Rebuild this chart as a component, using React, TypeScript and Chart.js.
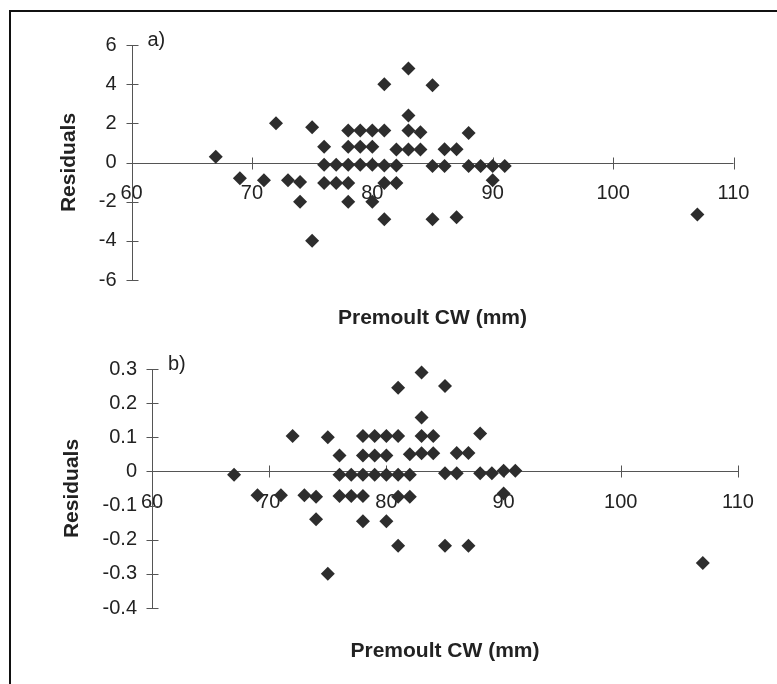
import React, { useEffect, useRef } from 'react';
import { Chart, registerables } from 'chart.js';

Chart.register(...registerables);

// ---------- data ----------
const xTicks = [60, 70, 80, 90, 100, 110];
const yTicksA = [-6, -4, -2, 0, 2, 4, 6];
const yTicksB = [-0.4, -0.3, -0.2, -0.1, 0, 0.1, 0.2, 0.3];
const yTickLabelsB = ['-0.4', '-0.3', '-0.2', '-0.1', '0', '0.1', '0.2', '0.3'];

const xTitle = 'Premoult CW (mm)';
const yTitle = 'Residuals';
const panelTags = ['a)', 'b)'];

// panel a) premoult CW (mm) and residuals
const cwA = [67, 69, 71, 72, 73, 74, 74, 75, 75, 76, 76, 76, 77, 77, 78, 78, 78, 78, 78, 79, 79, 79, 80, 80, 80, 80, 81, 81, 81, 81, 81, 82, 82, 82, 83, 83, 83, 83, 84, 84, 85, 85, 85, 86, 86, 87, 87, 88, 88, 89, 90, 90, 91, 107];
const resA = [0.3, -0.8, -0.9, 2.0, -0.9, -1.0, -2.0, 1.8, -4.0, 0.8, -0.12, -1.05, -0.12, -1.05, 1.63, 0.8, -0.12, -1.05, -2.0, 1.63, 0.8, -0.12, 1.63, 0.8, -0.12, -2.0, 4.0, 1.63, -0.15, -1.05, -2.9, 0.66, -0.15, -1.05, 4.8, 2.4, 1.63, 0.66, 1.54, 0.66, 3.95, -0.18, -2.9, 0.68, -0.18, 0.68, -2.8, 1.51, -0.18, -0.18, -0.18, -0.9, -0.18, -2.65];

// panel b) premoult CW (mm) and residuals
const cwB = [67, 69, 71, 72, 73, 74, 74, 75, 75, 76, 76, 76, 77, 77, 78, 78, 78, 78, 78, 79, 79, 79, 80, 80, 80, 80, 81, 81, 81, 81, 81, 82, 82, 82, 83, 83, 83, 83, 84, 84, 85, 85, 85, 86, 86, 87, 87, 88, 88, 89, 90, 90, 91, 107];
const resB = [-0.01, -0.07, -0.07, 0.104, -0.07, -0.074, -0.14, 0.1, -0.3, 0.047, -0.01, -0.072, -0.01, -0.072, 0.104, 0.047, -0.01, -0.072, -0.146, 0.104, 0.047, -0.01, 0.104, 0.047, -0.01, -0.146, 0.245, 0.104, -0.01, -0.074, -0.218, 0.05, -0.01, -0.074, 0.29, 0.158, 0.104, 0.053, 0.104, 0.053, 0.25, -0.005, -0.218, 0.054, -0.005, 0.054, -0.218, 0.111, -0.005, -0.005, 0.002, -0.065, 0.002, -0.268];

// ---------- styling ----------
const FAMILY = "Arial, 'Liberation Sans', Helvetica, sans-serif";
const TEXT = '#222';
const MARK = '#2d2d2d';
const AXIS = '#555';

type PanelSpec = {
  cw: number[];
  res: number[];
  yTicks: number[];
  yLabels: string[];
  tag: string;
  yMin: number;
  yMax: number;
  height: number;
  pad: { top: number; right: number; bottom: number };
  yWidth: number;
  yTitlePad: number;
  xHeight: number;
};

function excelAxes(tag: string) {
  return {
    id: 'excelAxes',
    beforeDatasetsDraw(chart: any) {
      const { ctx, scales } = chart;
      const xs = scales.x;
      const ys = scales.y;
      const y0 = Math.round(ys.getPixelForValue(0)) + 0.5;
      const x0 = Math.round(xs.getPixelForValue(xs.min)) + 0.5;
      ctx.save();
      ctx.strokeStyle = AXIS;
      ctx.lineWidth = 1;
      ctx.beginPath();
      ctx.moveTo(xs.getPixelForValue(xs.min), y0);
      ctx.lineTo(xs.getPixelForValue(xs.max), y0);
      ctx.moveTo(x0, ys.getPixelForValue(ys.max));
      ctx.lineTo(x0, ys.getPixelForValue(ys.min));
      xs.ticks.forEach((t: any) => {
        const px = Math.round(xs.getPixelForValue(t.value)) + 0.5;
        ctx.moveTo(px, y0 - 6);
        ctx.lineTo(px, y0 + 6);
      });
      ys.ticks.forEach((t: any) => {
        const py = Math.round(ys.getPixelForValue(t.value)) + 0.5;
        ctx.moveTo(x0 - 6, py);
        ctx.lineTo(x0 + 6, py);
      });
      ctx.stroke();
      ctx.fillStyle = TEXT;
      ctx.font = `20px ${FAMILY}`;
      ctx.textAlign = 'left';
      ctx.textBaseline = 'middle';
      ctx.fillText(tag, chart.chartArea.left + 16, chart.chartArea.top - 5);
      ctx.restore();
    },
  };
}

function Panel({ spec, top }: { spec: PanelSpec; top: number }) {
  const ref = useRef<HTMLCanvasElement>(null);
  useEffect(() => {
    const canvas = ref.current;
    if (!canvas) return;
    const chart = new Chart(canvas, {
      type: 'scatter',
      data: {
        datasets: [
          {
            data: spec.cw.map((x, i) => ({ x, y: spec.res[i] })),
            pointStyle: 'rectRot',
            pointRadius: 7,
            pointHoverRadius: 7,
            backgroundColor: MARK,
            borderColor: MARK,
            borderWidth: 0,
            clip: false,
          },
        ],
      },
      options: {
        animation: false,
        responsive: false,
        devicePixelRatio: 1,
        layout: { padding: { left: 0, top: spec.pad.top, right: spec.pad.right, bottom: spec.pad.bottom } },
        plugins: { legend: { display: false }, tooltip: { enabled: false }, title: { display: false } },
        scales: {
          x: {
            type: 'linear',
            position: { y: 0 } as any,
            min: xTicks[0],
            max: xTicks[xTicks.length - 1],
            afterBuildTicks: (s: any) => {
              s.ticks = xTicks.map((v) => ({ value: v }));
            },
            afterFit: (s: any) => {
              s.height = spec.xHeight;
            },
            grid: { display: false, drawTicks: false },
            border: { display: false },
            ticks: {
              padding: 19,
              color: TEXT,
              autoSkip: false,
              maxRotation: 0,
              font: { size: 20, family: FAMILY },
              callback: (v: any) => String(v),
            },
            title: {
              display: true,
              text: xTitle,
              color: TEXT,
              padding: 0,
              font: { size: 21, weight: 'bold', family: FAMILY },
            },
          },
          y: {
            type: 'linear',
            position: 'left',
            min: spec.yMin,
            max: spec.yMax,
            afterBuildTicks: (s: any) => {
              s.ticks = spec.yTicks.map((v) => ({ value: v }));
            },
            afterFit: (s: any) => {
              s.width = spec.yWidth;
            },
            grid: { display: false, drawTicks: false },
            border: { display: false },
            ticks: {
              padding: 15,
              color: TEXT,
              font: { size: 20, family: FAMILY },
              callback: (_v: any, i: number) => spec.yLabels[i],
            },
            title: {
              display: true,
              text: yTitle,
              color: TEXT,
              padding: { top: spec.yTitlePad, bottom: 0 },
              font: { size: 21, weight: 'bold', family: FAMILY },
            },
          },
        },
      },
      plugins: [excelAxes(spec.tag)],
    } as any);
    return () => chart.destroy();
  }, [spec]);
  return (
    <canvas
      ref={ref}
      width={777}
      height={spec.height}
      style={{ position: 'absolute', left: 0, top, width: 777, height: spec.height }}
    />
  );
}

const specA: PanelSpec = {
  cw: cwA,
  res: resA,
  yTicks: yTicksA,
  yLabels: yTicksA.map((v) => String(v)),
  tag: panelTags[0],
  yMin: -6,
  yMax: 6,
  height: 340,
  pad: { top: 45, right: 43.5, bottom: 60 },
  yWidth: 131.5,
  yTitlePad: 57,
  xHeight: 168,
};

const specB: PanelSpec = {
  cw: cwB,
  res: resB,
  yTicks: yTicksB,
  yLabels: yTickLabelsB,
  tag: panelTags[1],
  yMin: -0.4,
  yMax: 0.3,
  height: 344,
  pad: { top: 29, right: 39, bottom: 76 },
  yWidth: 152,
  yTitlePad: 60,
  xHeight: 192,
};

export default function App() {
  useEffect(() => {
    document.body.style.margin = '0';
    document.body.style.background = '#fff';
  }, []);
  return (
    <div style={{ position: 'absolute', left: 0, top: 0, width: 777, height: 684, overflow: 'hidden', background: '#fff' }}>
      <Panel spec={specA} top={0} />
      <Panel spec={specB} top={340} />
      <div
        style={{
          position: 'absolute',
          left: 9,
          top: 10,
          width: 768,
          height: 674,
          borderTop: '2px solid #111',
          borderLeft: '2px solid #111',
          boxSizing: 'border-box',
          pointerEvents: 'none',
        }}
      />
    </div>
  );
}
